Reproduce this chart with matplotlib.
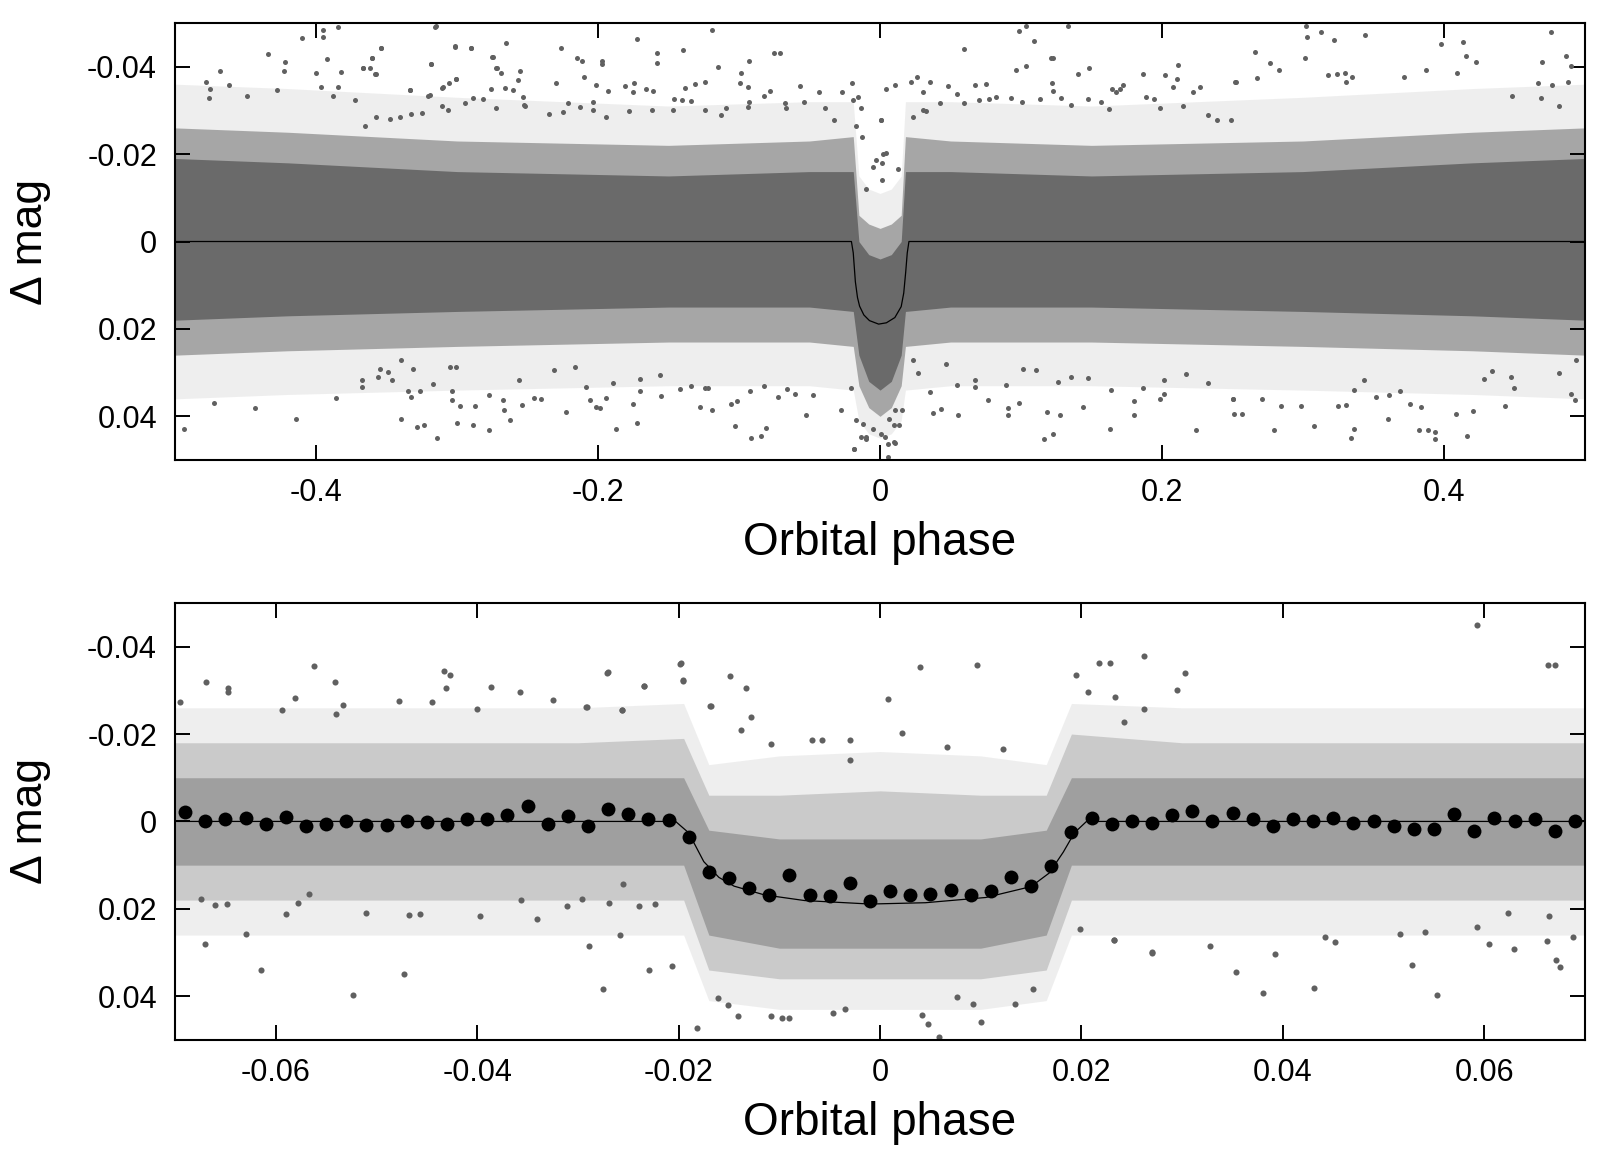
import matplotlib
matplotlib.use('Agg')
import matplotlib.pyplot as plt

plt.rcParams['font.family'] = ['Liberation Sans', 'DejaVu Sans']
plt.rcParams['axes.unicode_minus'] = False

dot_color = '#606060'

# transit model
model_phase = [-0.5, -0.0203, -0.0190, -0.0175, -0.0160, -0.0145, -0.0115, -0.0075, -0.0010,
               0.0045, 0.0105, 0.0150, 0.0168, 0.0182, 0.0193, 0.0205, 0.5]
model_dmag = [0.0, 0.0, 0.0026, 0.0092, 0.0128, 0.0148, 0.0168, 0.0181, 0.0189,
              0.0186, 0.0174, 0.0149, 0.0118, 0.0070, 0.0026, 0.0, 0.0]

# binned points, lower panel (bin width 0.002)
bin_phase = [round(-0.069 + 0.002 * i, 3) for i in range(70)]
bin_dmag = [-0.0021, -0.0002, -0.0006, -0.0008, 0.0005, -0.0011, 0.0010, 0.0005, -0.0002, 0.0009,
            0.0009, 0.0000, 0.0002, 0.0007, -0.0006, -0.0006, -0.0015, -0.0035, 0.0007, -0.0012,
            0.0011, -0.0029, -0.0018, -0.0006, -0.0004, 0.0035, 0.0116, 0.0130, 0.0152, 0.0169,
            0.0122, 0.0169, 0.0171, 0.0140, 0.0181, 0.0159, 0.0169, 0.0167, 0.0156, 0.0169,
            0.0160, 0.0127, 0.0147, 0.0102, 0.0025, -0.0008, 0.0005, -0.0001, 0.0004, -0.0014,
            -0.0025, -0.0002, -0.0019, -0.0005, 0.0011, -0.0005, -0.0001, -0.0007, 0.0004, -0.0001,
            0.0011, 0.0017, 0.0018, -0.0018, 0.0021, -0.0008, -0.0001, -0.0005, 0.0022, -0.0002]

# upper panel: extent of the point cloud (dense core, speckled zone, sparse zone)
top_phase = [-0.5, -0.42, -0.3, -0.15, -0.05, -0.019, -0.015, -0.008, 0.0, 0.008, 0.015, 0.018,
             0.05, 0.15, 0.3, 0.42, 0.5]
top_core_up = [-0.019, -0.018, -0.016, -0.015, -0.016, -0.016, 0.000, 0.003, 0.004, 0.003, 0.000,
               -0.016, -0.016, -0.015, -0.016, -0.018, -0.019]
top_core_dn = [0.018, 0.017, 0.016, 0.015, 0.015, 0.016, 0.026, 0.032, 0.034, 0.032, 0.026,
               0.016, 0.015, 0.015, 0.016, 0.017, 0.018]
top_mid_up = [-0.026, -0.025, -0.023, -0.022, -0.023, -0.024, -0.006, -0.004, -0.003, -0.004, -0.006,
              -0.024, -0.023, -0.022, -0.023, -0.025, -0.026]
top_mid_dn = [0.026, 0.025, 0.024, 0.023, 0.023, 0.024, 0.033, 0.038, 0.040, 0.038, 0.033,
              0.024, 0.023, 0.023, 0.024, 0.025, 0.026]
top_out_up = [-0.036, -0.035, -0.033, -0.031, -0.032, -0.032, -0.015, -0.012, -0.011, -0.012, -0.015,
              -0.032, -0.032, -0.031, -0.033, -0.035, -0.036]
top_out_dn = [0.036, 0.035, 0.034, 0.033, 0.033, 0.034, 0.041, 0.044, 0.045, 0.044, 0.041,
              0.034, 0.033, 0.033, 0.034, 0.035, 0.036]

# upper panel: scattered points outside the dense band (phase, dmag)
top_pts = [
    (-0.4102, -0.0465), (-0.3953, -0.0484), (-0.3847, -0.0490), (-0.3953, -0.0467), (-0.3157, -0.0490),
    (-0.4343, -0.0429), (-0.4220, -0.0411), (-0.4225, -0.0391), (-0.3920, -0.0417), (-0.3542, -0.0442),
    (-0.3601, -0.0419), (-0.3665, -0.0396), (-0.3575, -0.0383), (-0.3016, -0.0446), (-0.2904, -0.0442),
    (-0.3186, -0.0406), (-0.4681, -0.0389), (-0.4001, -0.0386), (-0.3826, -0.0388), (-0.4782, -0.0366),
    (-0.4619, -0.0358), (-0.4752, -0.0350), (-0.4757, -0.0328), (-0.4492, -0.0334), (-0.4279, -0.0347),
    (-0.3965, -0.0353), (-0.3843, -0.0353), (-0.3878, -0.0333), (-0.3724, -0.0324), (-0.3335, -0.0347),
    (-0.3205, -0.0333), (-0.3004, -0.0372), (-0.3099, -0.0353), (-0.2758, -0.0348), (-0.2744, -0.0423),
    (-0.2720, -0.0396),
    (0.3020, -0.0492), (0.3127, -0.0479), (0.3025, -0.0467), (0.3221, -0.0460), (0.3441, -0.0473),
    (0.2659, -0.0434), (0.3011, -0.0421), (0.2765, -0.0408), (0.2831, -0.0392), (0.3979, -0.0452),
    (0.4131, -0.0457), (0.4154, -0.0425), (0.4225, -0.0410), (0.4757, -0.0479), (0.4863, -0.0425),
    (0.4693, -0.0410), (0.4903, -0.0402), (0.4882, -0.0366), (0.4768, -0.0358), (0.2524, -0.0366),
    (0.2673, -0.0373), (0.3174, -0.0381), (0.3240, -0.0383), (0.3297, -0.0385), (0.3347, -0.0376),
    (0.3304, -0.0366), (0.3719, -0.0376), (0.3871, -0.0392), (0.4091, -0.0386), (0.4669, -0.0362),
    (0.4690, -0.0328), (0.4816, -0.0310), (0.4485, -0.0334),
    (0.2796, 0.0431), (0.3079, 0.0422), (0.3339, 0.0449), (0.3363, 0.0428), (0.3824, 0.0431),
    (0.3885, 0.0431), (0.3935, 0.0436), (0.3935, 0.0451), (0.4166, 0.0446), (0.4084, 0.0394),
    (0.4206, 0.0388), (0.3601, 0.0406), (0.4431, 0.0377), (0.4899, 0.0348), (0.4929, 0.0362),
    (0.2512, 0.0394), (0.2567, 0.0394), (0.2500, 0.0360), (0.2709, 0.0360), (0.2843, 0.0377),
    (0.2985, 0.0377), (0.3245, 0.0377), (0.3304, 0.0375), (0.3758, 0.0371), (0.3836, 0.0379),
    (0.3434, 0.0318), (0.3358, 0.0339), (0.3517, 0.0356), (0.3611, 0.0352), (0.3689, 0.0341),
    (0.4284, 0.0314), (0.4343, 0.0296), (0.4473, 0.0310), (0.4497, 0.0335), (0.4816, 0.0301),
    (0.4934, 0.0272),
    (-0.4939, 0.0429), (-0.4722, 0.0370), (-0.4433, 0.0382), (-0.4144, 0.0405), (-0.3855, 0.0359),
    # middle left
    (-0.3150, -0.0492), (-0.3542, -0.0442), (-0.3606, -0.0421), (-0.3666, -0.0396), (-0.3618, -0.0396),
    (-0.3580, -0.0383), (-0.3653, -0.0264), (-0.3185, -0.0406), (-0.3015, -0.0447), (-0.2904, -0.0442),
    (-0.2654, -0.0454), (-0.2753, -0.0423), (-0.2725, -0.0396), (-0.2685, -0.0385), (-0.2550, -0.0390),
    (-0.2567, -0.0370), (-0.2260, -0.0442), (-0.2147, -0.0419), (-0.2111, -0.0414), (-0.1974, -0.0412),
    (-0.1974, -0.0406), (-0.2099, -0.0376), (-0.2300, -0.0363), (-0.1723, -0.0463), (-0.1579, -0.0431),
    (-0.1579, -0.0409), (-0.1395, -0.0439), (-0.1192, -0.0484), (-0.1147, -0.0399), (-0.0932, -0.0412),
    (-0.0989, -0.0386), (-0.0750, -0.0431), (-0.0708, -0.0431), (-0.1244, -0.0366), (-0.1383, -0.0351),
    (-0.1315, -0.0360), (-0.0996, -0.0362), (-0.0935, -0.0354), (-0.0779, -0.0345), (-0.0566, -0.0356),
    (-0.0434, -0.0343), (-0.0273, -0.0341), (-0.0200, -0.0362), (-0.0155, -0.0331), (-0.0134, -0.0305),
    (-0.0193, -0.0323), (-0.3335, -0.0347), (-0.3193, -0.0336), (-0.3106, -0.0352), (-0.3056, -0.0363),
    (-0.3004, -0.0371), (-0.2657, -0.0352), (-0.2602, -0.0347), (-0.2531, -0.0330), (-0.2524, -0.0312),
    (-0.2016, -0.0358), (-0.1929, -0.0344), (-0.1811, -0.0356), (-0.1747, -0.0362), (-0.1752, -0.0342),
    (-0.1657, -0.0349), (-0.1610, -0.0345), (-0.1461, -0.0326), (-0.1402, -0.0324), (-0.1343, -0.0322),
    (-0.1090, -0.0305), (-0.0930, -0.0320), (-0.0823, -0.0334), (-0.0672, -0.0316), (-0.0665, -0.0305),
    (-0.0540, -0.0320), (-0.0391, -0.0306), (-0.0323, -0.0279), (-0.0126, -0.0240), (-0.0169, -0.0264),
    (-0.3401, -0.0286), (-0.3323, -0.0291), (-0.3578, -0.0284), (-0.3476, -0.0280), (-0.3247, -0.0293),
    (-0.3110, -0.0311), (-0.3063, -0.0302), (-0.2945, -0.0316), (-0.2886, -0.0328), (-0.2815, -0.0325),
    (-0.2727, -0.0305), (-0.2515, -0.0311), (-0.2349, -0.0292), (-0.2248, -0.0297), (-0.2210, -0.0316),
    (-0.2125, -0.0308), (-0.2035, -0.0320), (-0.2035, -0.0302), (-0.1945, -0.0284), (-0.1782, -0.0299),
    (-0.1617, -0.0301), (-0.1468, -0.0301), (-0.1244, -0.0301), (-0.1126, -0.0289), (-0.0937, -0.0308),
    (-0.3139, 0.0449), (-0.3283, 0.0425), (-0.3236, 0.0419), (-0.3394, 0.0406), (-0.2999, 0.0415),
    (-0.2886, 0.0419), (-0.2772, 0.0431), (-0.2626, 0.0408), (-0.2666, 0.0386), (-0.2673, 0.0362),
    (-0.2539, 0.0373), (-0.2456, 0.0357), (-0.2402, 0.0360), (-0.2224, 0.0390), (-0.2059, 0.0362),
    (-0.2012, 0.0379), (-0.1988, 0.0381), (-0.1941, 0.0358), (-0.1875, 0.0430), (-0.1724, 0.0415),
    (-0.1752, 0.0371), (-0.1705, 0.0341), (-0.1556, 0.0354), (-0.1421, 0.0338), (-0.1275, 0.0379),
    (-0.1190, 0.0385), (-0.1060, 0.0371), (-0.1012, 0.0366), (-0.1031, 0.0421), (-0.0913, 0.0449),
    (-0.0842, 0.0444), (-0.0807, 0.0426), (-0.0523, 0.0396), (-0.0275, 0.0385), (-0.0185, 0.0474),
    (-0.0138, 0.0448), (-0.0098, 0.0451), (-0.0209, 0.0335), (-0.0476, 0.0352), (-0.0606, 0.0348),
    (-0.0724, 0.0356), (-0.0658, 0.0337), (-0.0826, 0.0331), (-0.0920, 0.0343), (-0.1244, 0.0335),
    (-0.1220, 0.0335), (-0.1343, 0.0331), (-0.1563, 0.0306), (-0.1705, 0.0314), (-0.1894, 0.0324),
    (-0.2083, 0.0333), (-0.2165, 0.0287), (-0.2312, 0.0293), (-0.2560, 0.0318), (-0.2772, 0.0351),
    (-0.2874, 0.0377), (-0.2980, 0.0377), (-0.3035, 0.0362), (-0.3039, 0.0342), (-0.3174, 0.0325),
    (-0.3264, 0.0343), (-0.3328, 0.0356), (-0.3351, 0.0341), (-0.3460, 0.0318), (-0.3488, 0.0299),
    (-0.3559, 0.0310), (-0.3677, 0.0333), (-0.3677, 0.0318), (-0.3547, 0.0291), (-0.3311, 0.0291),
    (-0.3394, 0.0272), (-0.3051, 0.0287), (-0.3004, 0.0287),
    # middle right
    (0.1036, -0.0493), (0.1336, -0.0492), (0.0989, -0.0482), (0.1095, -0.0459), (0.0599, -0.0441),
    (0.1213, -0.0419), (0.1230, -0.0419), (0.1036, -0.0402), (0.0965, -0.0392), (0.1485, -0.0398),
    (0.1402, -0.0383), (0.1863, -0.0383), (0.2023, -0.0381), (0.2111, -0.0405), (0.2106, -0.0371),
    (0.2080, -0.0354), (0.2517, -0.0366), (0.2269, -0.0354), (0.2217, -0.0341), (0.1721, -0.0357),
    (0.1646, -0.0350), (0.1702, -0.0348), (0.1218, -0.0362), (0.1230, -0.0345), (0.0752, -0.0360),
    (0.0670, -0.0358), (0.0351, -0.0366), (0.0261, -0.0376), (0.0221, -0.0364), (0.0103, -0.0357),
    (0.0039, -0.0350), (0.0008, -0.0279), (0.0020, -0.0200), (0.0015, -0.0179), (0.0304, -0.0341),
    (0.0481, -0.0356), (0.0545, -0.0337), (0.0592, -0.0318), (0.0705, -0.0324), (0.0776, -0.0326),
    (0.0823, -0.0331), (0.0930, -0.0328), (0.1005, -0.0320), (0.1135, -0.0325), (0.1284, -0.0329),
    (0.1355, -0.0312), (0.1473, -0.0325), (0.1567, -0.0320), (0.1627, -0.0303), (0.1674, -0.0341),
    (0.1886, -0.0331), (0.1945, -0.0326), (0.1988, -0.0305), (0.2151, -0.0311), (0.2324, -0.0289),
    (0.2387, -0.0279), (0.2491, -0.0279), (0.0327, -0.0299), (0.0304, -0.0301), (0.0422, -0.0316),
    (0.0233, -0.0284),
    (0.1166, 0.0451), (0.1230, 0.0440), (0.1634, 0.0428), (0.2241, 0.0431), (0.1799, 0.0398),
    (0.1988, 0.0361), (0.2016, 0.0348), (0.1438, 0.0379), (0.1279, 0.0398), (0.1182, 0.0390),
    (0.0906, 0.0398), (0.0911, 0.0381), (0.0989, 0.0370), (0.0764, 0.0362), (0.0554, 0.0398),
    (0.0434, 0.0383), (0.0374, 0.0393), (0.0351, 0.0344), (0.0103, 0.0385), (0.0157, 0.0385),
    (0.0096, 0.0419), (0.0133, 0.0419), (0.0067, 0.0406), (0.0103, 0.0461), (0.0056, 0.0493),
    (0.0032, 0.0448), (0.2501, 0.0360), (0.2328, 0.0324), (0.1863, 0.0335), (0.1799, 0.0364),
    (0.1638, 0.0339), (0.1478, 0.0312), (0.1355, 0.0310), (0.1260, 0.0322), (0.1107, 0.0293),
    (0.1017, 0.0291), (0.0894, 0.0329), (0.0670, 0.0318), (0.0677, 0.0333), (0.0545, 0.0329),
    (0.0469, 0.0280), (0.0268, 0.0301), (0.0233, 0.0272), (0.2016, 0.0318), (0.2170, 0.0302),
    # around the transit
    (-0.0186, 0.0474), (-0.0098, 0.0448), (-0.0051, 0.0428), (0.0055, 0.0463), (0.0098, 0.0459),
    (0.0008, 0.0440), (-0.0169, 0.0409), (-0.0122, 0.0417), (0.0008, -0.0279), (-0.0051, -0.0171),
    (-0.0027, -0.0186), (-0.0098, -0.0121), (0.0044, -0.0202), (0.0126, -0.0167), (0.0016, -0.0140),
]

# lower panel: extent of the point cloud
bot_phase = [-0.07, -0.05, -0.03, -0.0195, -0.017, -0.01, 0.0, 0.01, 0.0165, 0.019, 0.03, 0.05, 0.07]
bot_core_up = [-0.010, -0.010, -0.010, -0.010, 0.002, 0.004, 0.004, 0.004, 0.002, -0.010, -0.010, -0.010, -0.010]
bot_core_dn = [0.010, 0.010, 0.010, 0.010, 0.026, 0.029, 0.029, 0.029, 0.026, 0.010, 0.010, 0.010, 0.010]
bot_mid_up = [-0.018, -0.018, -0.018, -0.019, -0.006, -0.006, -0.007, -0.006, -0.006, -0.020, -0.018, -0.018, -0.018]
bot_mid_dn = [0.018, 0.018, 0.018, 0.018, 0.034, 0.036, 0.036, 0.036, 0.034, 0.018, 0.018, 0.018, 0.018]
bot_out_up = [-0.026, -0.026, -0.026, -0.027, -0.013, -0.015, -0.016, -0.015, -0.013, -0.027, -0.026, -0.026, -0.026]
bot_out_dn = [0.026, 0.026, 0.026, 0.026, 0.041, 0.043, 0.043, 0.043, 0.041, 0.026, 0.026, 0.026, 0.026]

# lower panel: scattered points outside the dense band
bot_out_x = [-0.01976, -0.01955, -0.02704, -0.02348, -0.01486, -0.01328, -0.01680, -0.01283, -0.01385, 0.00393,
             0.00960, 0.00081, 0.02623, 0.02174, 0.02279, 0.01943, 0.03028, 0.02947, 0.02336, 0.02065,
             0.02619, 0.02421, -0.00296, -0.00680, -0.00575, 0.00660, 0.01219, 0.00215, -0.01081, -0.02559,
             -0.02915, -0.00296,
             0.00587, 0.00417, 0.01004, 0.00478, -0.01409, -0.01085, -0.00972, -0.00899, -0.00466, -0.00344,
             -0.01822, -0.02753, -0.02296, -0.02065, -0.02887, -0.02579, 0.02700, 0.02320, 0.01984, 0.01336,
             0.00919, -0.01506, -0.01611, 0.00769, 0.01518,
             -0.05621, -0.05416, -0.06694, -0.06478, -0.06478, -0.06949, -0.05402, -0.05331, -0.02708, -0.01982,
             -0.01958, -0.02347, -0.01692, -0.04329, -0.04265, -0.04312, -0.03862, -0.03572, -0.03250, -0.04446,
             -0.04779, -0.05805, -0.05940, -0.04004, -0.02559, -0.02913,
             0.02322, 0.02701, 0.03279, 0.03533, 0.03807, 0.03923, 0.04312, 0.04418, 0.04517, 0.05160,
             0.05282, 0.05533, 0.05408, 0.06051, 0.06299, 0.06622, 0.06711, 0.06750, 0.06876, 0.06645,
             0.06240, 0.05926,
             -0.05903, -0.05104, -0.04675, -0.04566, -0.03972, -0.03404, -0.02695, -0.02959, -0.02233, -0.02398,
             -0.06480, -0.06738, -0.06606, -0.05665, -0.05780, -0.03569, -0.03107, -0.02552,
             -0.05234, -0.04729, -0.06143, -0.06698, -0.06294, 0.05930, 0.06630, 0.06700]
bot_out_y = [-0.03623, -0.03227, -0.03417, -0.03097, -0.03318, -0.03059, -0.02647, -0.02387, -0.02082, -0.03532,
             -0.03570, -0.02792, -0.03776, -0.03631, -0.03623, -0.03341, -0.03402, -0.02998, -0.02845, -0.02960,
             -0.02563, -0.02273, -0.01869, -0.01854, -0.01869, -0.01701, -0.01648, -0.02021, -0.01777, -0.02555,
             -0.02616, -0.01411,
             0.04935, 0.04439, 0.04592, 0.04630, 0.04462, 0.04462, 0.04493, 0.04493, 0.04378, 0.04287,
             0.04722, 0.03829, 0.03410, 0.03318, 0.02860, 0.02609, 0.02990, 0.02708, 0.02471, 0.04172,
             0.04172, 0.04195, 0.04043, 0.04020, 0.03829,
             -0.03562, -0.03188, -0.03181, -0.03051, -0.02952, -0.02723, -0.02456, -0.02662, -0.03394, -0.03600,
             -0.03219, -0.03089, -0.02639, -0.03433, -0.03356, -0.03043, -0.03082, -0.02952, -0.02784, -0.02738,
             -0.02746, -0.02822, -0.02555, -0.02563, -0.02548, -0.02609,
             0.02708, 0.03005, 0.02860, 0.03448, 0.03928, 0.03036, 0.03822, 0.02647, 0.02754, 0.02586,
             0.03288, 0.03974, 0.02533, 0.02815, 0.02914, 0.02746, 0.03165, 0.03325, 0.02647, 0.02174,
             0.02090, 0.02418,
             0.02128, 0.02098, 0.02151, 0.02113, 0.02174, 0.02227, 0.01869, 0.01770, 0.01884, 0.01945,
             0.01884, 0.01770, 0.01907, 0.01655, 0.01869, 0.01793, 0.01945, 0.01426,
             0.03970, 0.03500, 0.03390, 0.02800, 0.02570, -0.04490, -0.03590, -0.03570]

top_xticks = [-0.4, -0.2, 0.0, 0.2, 0.4]
top_xlabels = ['-0.4', '-0.2', '0', '0.2', '0.4']
bot_xticks = [-0.06, -0.04, -0.02, 0.0, 0.02, 0.04, 0.06]
bot_xlabels = ['-0.06', '-0.04', '-0.02', '0', '0.02', '0.04', '0.06']
yticks = [-0.04, -0.02, 0.0, 0.02, 0.04]
ylabels = ['-0.04', '-0.02', '0', '0.02', '0.04']


def draw_cloud(ax, phase, bands, alphas): # layered fill for the dense point cloud
  for (up, dn), a in zip(bands, alphas):
    ax.fill_between(phase, up, dn, color=dot_color, alpha=a, lw=0, zorder=1)


def style_axis(ax, xlim, xticks, xlabels):
  ax.set_xlim(*xlim)
  ax.set_ylim(0.05, -0.05)
  ax.set_xticks(xticks)
  ax.set_xticklabels(xlabels)
  ax.set_yticks(yticks)
  ax.set_yticklabels(ylabels)
  ax.tick_params(direction='in', top=True, right=True, length=10.5, width=1.4,
                 labelsize=22, pad=13, colors='black')
  for s in ax.spines.values():
    s.set_linewidth(1.5)
  ax.set_xlabel('Orbital phase', fontsize=33)
  ax.set_ylabel('Δ mag', fontsize=32)
  ax.xaxis.set_label_coords(0.5, -0.14)
  ax.yaxis.set_label_coords(-0.088, 0.5)


fig = plt.figure(figsize=(16, 11.55), dpi=100)
ax1 = fig.add_axes([0.1094, 0.6017, 0.88125, 0.3784])
ax2 = fig.add_axes([0.1094, 0.0996, 0.88125, 0.3784])

# upper panel
draw_cloud(ax1, top_phase,
           [(top_out_up, top_out_dn), (top_mid_up, top_mid_dn), (top_core_up, top_core_dn)],
           [0.10, 0.5, 0.85])
ax1.plot([p[0] for p in top_pts], [p[1] for p in top_pts], 'o', color=dot_color, ms=3.6, mew=0, zorder=2)
ax1.plot(model_phase, model_dmag, color='black', lw=0.9, zorder=3)
style_axis(ax1, (-0.5, 0.5), top_xticks, top_xlabels)

# lower panel
draw_cloud(ax2, bot_phase,
           [(bot_out_up, bot_out_dn), (bot_mid_up, bot_mid_dn), (bot_core_up, bot_core_dn)],
           [0.10, 0.25, 0.40])
ax2.plot(bot_out_x, bot_out_y, 'o', color=dot_color, ms=4.4, mew=0, zorder=2)
ax2.plot(model_phase, model_dmag, color='black', lw=0.9, zorder=3)
ax2.plot(bin_phase, bin_dmag, 'o', color='black', ms=10, mew=0, zorder=4)
style_axis(ax2, (-0.07, 0.07), bot_xticks, bot_xlabels)

fig.savefig('out.png', dpi=100)
